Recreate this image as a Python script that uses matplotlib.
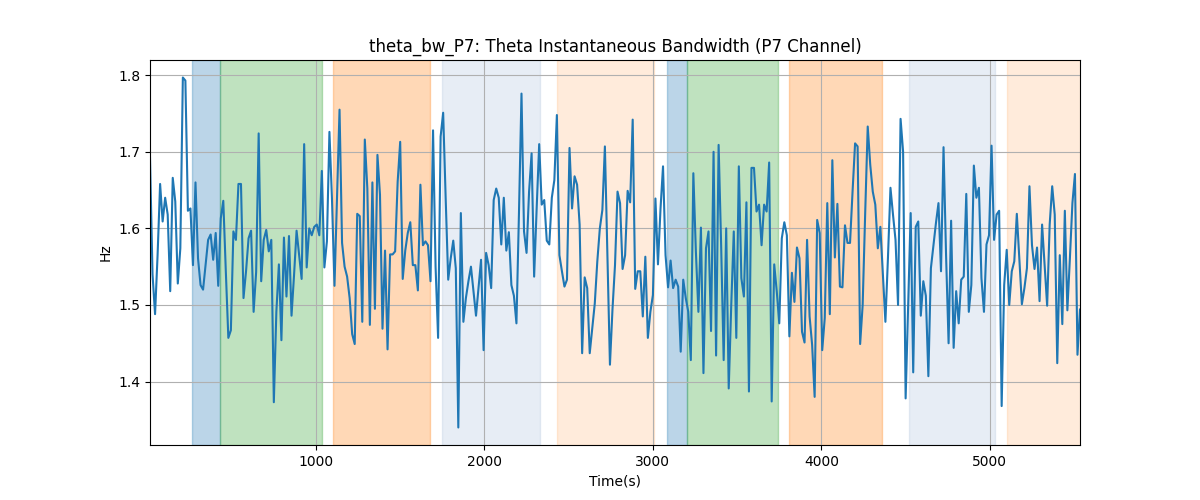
import numpy as np
import matplotlib
matplotlib.use("Agg")
import matplotlib.pyplot as plt

# sampling of the series
t_start = 15.0
t_step = 15.0

bandwidth = [
    1.692, 1.540, 1.488, 1.565, 1.658, 1.609, 1.640, 1.618, 1.518, 1.666,
    1.635, 1.528, 1.574, 1.797, 1.793, 1.623, 1.626, 1.552, 1.660, 1.561,
    1.526, 1.520, 1.552, 1.585, 1.592, 1.559, 1.594, 1.525, 1.613, 1.636,
    1.544, 1.457, 1.467, 1.596, 1.585, 1.658, 1.658, 1.509, 1.544, 1.587,
    1.597, 1.491, 1.543, 1.724, 1.531, 1.585, 1.598, 1.570, 1.585, 1.373,
    1.491, 1.553, 1.454, 1.588, 1.511, 1.590, 1.486, 1.539, 1.597, 1.565,
    1.534, 1.710, 1.549, 1.600, 1.591, 1.602, 1.605, 1.591, 1.675, 1.549,
    1.583, 1.726, 1.639, 1.525, 1.639, 1.755, 1.581, 1.550, 1.537, 1.509,
    1.462, 1.449, 1.619, 1.616, 1.478, 1.716, 1.652, 1.474, 1.660, 1.495,
    1.696, 1.644, 1.469, 1.571, 1.442, 1.566, 1.566, 1.570, 1.661, 1.713,
    1.534, 1.571, 1.594, 1.608, 1.552, 1.552, 1.519, 1.657, 1.578, 1.583,
    1.578, 1.531, 1.728, 1.550, 1.457, 1.720, 1.751, 1.639, 1.533, 1.561,
    1.584, 1.548, 1.340, 1.620, 1.478, 1.509, 1.531, 1.550, 1.518, 1.486,
    1.522, 1.559, 1.441, 1.568, 1.552, 1.522, 1.637, 1.652, 1.640, 1.579,
    1.640, 1.571, 1.595, 1.526, 1.512, 1.476, 1.620, 1.776, 1.596, 1.568,
    1.648, 1.698, 1.537, 1.626, 1.710, 1.631, 1.637, 1.584, 1.579, 1.640,
    1.663, 1.748, 1.565, 1.544, 1.524, 1.533, 1.705, 1.626, 1.668, 1.657,
    1.605, 1.437, 1.536, 1.522, 1.437, 1.470, 1.502, 1.557, 1.600, 1.624,
    1.707, 1.565, 1.422, 1.494, 1.552, 1.648, 1.633, 1.547, 1.565, 1.649,
    1.634, 1.742, 1.521, 1.544, 1.544, 1.485, 1.563, 1.457, 1.491, 1.513,
    1.639, 1.553, 1.625, 1.681, 1.565, 1.523, 1.558, 1.522, 1.533, 1.524,
    1.439, 1.533, 1.509, 1.491, 1.428, 1.672, 1.570, 1.491, 1.601, 1.411,
    1.574, 1.596, 1.466, 1.700, 1.434, 1.709, 1.578, 1.428, 1.600, 1.391,
    1.500, 1.596, 1.457, 1.681, 1.535, 1.511, 1.634, 1.387, 1.679, 1.679,
    1.622, 1.631, 1.578, 1.631, 1.622, 1.686, 1.374, 1.553, 1.518, 1.476,
    1.587, 1.608, 1.591, 1.459, 1.542, 1.504, 1.575, 1.561, 1.465, 1.451,
    1.585, 1.485, 1.448, 1.380, 1.611, 1.594, 1.441, 1.483, 1.633, 1.488,
    1.689, 1.562, 1.632, 1.524, 1.523, 1.604, 1.581, 1.581, 1.648, 1.711,
    1.707, 1.449, 1.500, 1.620, 1.733, 1.683, 1.648, 1.631, 1.574, 1.602,
    1.539, 1.478, 1.561, 1.653, 1.618, 1.585, 1.500, 1.743, 1.700, 1.378,
    1.500, 1.620, 1.412, 1.602, 1.609, 1.486, 1.531, 1.512, 1.407, 1.548,
    1.578, 1.607, 1.633, 1.544, 1.706, 1.565, 1.450, 1.610, 1.444, 1.518,
    1.476, 1.533, 1.537, 1.645, 1.491, 1.526, 1.682, 1.640, 1.653, 1.535,
    1.491, 1.579, 1.591, 1.708, 1.585, 1.618, 1.623, 1.368, 1.526, 1.572,
    1.500, 1.544, 1.557, 1.619, 1.561, 1.501, 1.522, 1.548, 1.655, 1.578,
    1.547, 1.575, 1.505, 1.605, 1.552, 1.499, 1.605, 1.655, 1.618, 1.424,
    1.565, 1.475, 1.623, 1.493, 1.561, 1.633, 1.671, 1.435, 1.494,
]

# shaded segments: start, end, colour, alpha
seg_start = [263, 431, 1101, 1749, 2432, 3081, 3201, 3806, 4518, 5100]
seg_end   = [431, 1034, 1676, 2330, 3008, 3201, 3743, 4362, 5028, 5540]
seg_color = ["C0", "C2", "C1", "lightsteelblue", "C1",
             "C0", "C2", "C1", "lightsteelblue", "C1"]
seg_alpha = [0.3, 0.3, 0.3, 0.3, 0.15, 0.3, 0.3, 0.3, 0.3, 0.15]

title = "theta_bw_P7: Theta Instantaneous Bandwidth (P7 Channel)"

values = np.array(bandwidth)
times = t_start + t_step * np.arange(len(values))

fig, ax = plt.subplots(figsize=(12, 5), dpi=100)
for s, e, c, a in zip(seg_start, seg_end, seg_color, seg_alpha):
    ax.axvspan(s, e, color=c, alpha=a)
ax.plot(times, values, color="C0", linewidth=1.5)
ax.set_xlim(times[0], times[-1])
ax.set_title(title)
ax.set_xlabel("Time(s)")
ax.set_ylabel("Hz")
ax.grid(True)
fig.savefig("out.png", dpi=100)
